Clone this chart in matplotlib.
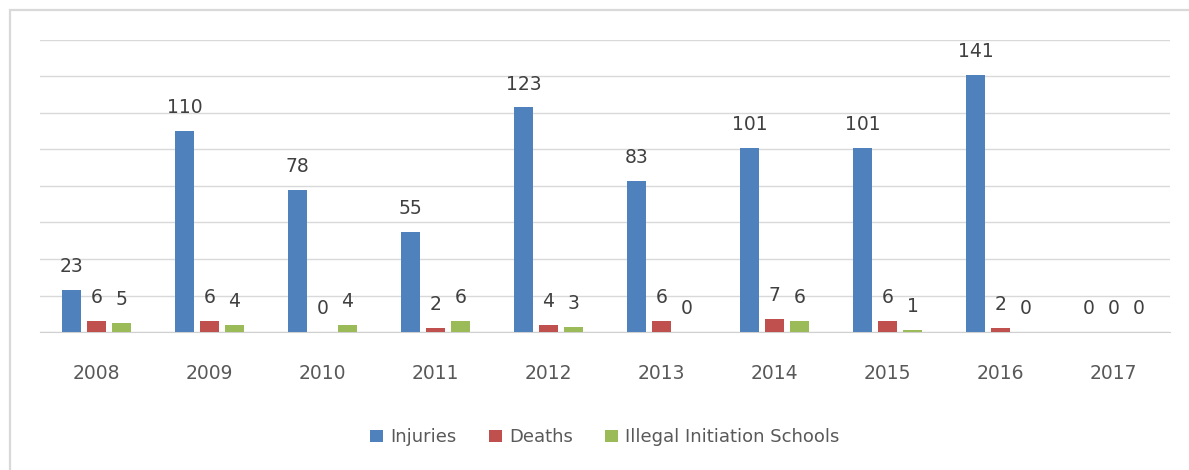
import matplotlib.pyplot as plt
import matplotlib.patches as patches
import numpy as np

# data
years = ["2008", "2009", "2010", "2011", "2012", "2013", "2014", "2015", "2016", "2017"]
injuries = [23, 110, 78, 55, 123, 83, 101, 101, 141, 0]
deaths = [6, 6, 0, 2, 4, 6, 7, 6, 2, 0]
schools = [5, 4, 4, 6, 3, 0, 6, 1, 0, 0]

series = [
    ("Injuries", injuries, "#4F81BD"),
    ("Deaths", deaths, "#C0504D"),
    ("Illegal Initiation Schools", schools, "#9BBB59"),
]

fig = plt.figure(figsize=(11.89, 4.70), dpi=100)
ax = fig.add_axes([0.0336, 0.2936, 0.9504, 0.6214])

# light outer frame of the chart area
fig.patches.append(patches.Rectangle((10 / 1189, -0.1), 1.2, 1.1 - 10 / 470,
                                     transform=fig.transFigure, fill=False,
                                     edgecolor="#d9d9d9", linewidth=1.6))

x = np.arange(len(years))
w = 0.173
step = 0.221

for i, (name, vals, col) in enumerate(series):
    pos = x + (i - 1) * step
    ax.bar(pos, vals, width=w, color=col, label=name, zorder=3)
    for px, v in zip(pos, vals):
        ax.annotate(str(v), (px, v), xytext=(0, 10), textcoords="offset points",
                    ha="center", va="bottom", fontsize=13.5, color="#404040")

ax.set_xlim(-0.5, len(years) - 0.5)
ax.set_ylim(0, 160)
ax.set_yticks(range(0, 161, 20))
ax.set_yticklabels([])
ax.grid(axis="y", color="#d9d9d9", linewidth=1, zorder=0)
ax.tick_params(length=0)
ax.tick_params(axis="x", labelsize=13.5, labelcolor="#595959", pad=23)
ax.set_xticks(x)
ax.set_xticklabels(years)
for s in ["top", "right", "left"]:
    ax.spines[s].set_visible(False)
ax.spines["bottom"].set_color("#d0d0d0")

ax.legend(loc="center", bbox_to_anchor=(0.5, -0.36), ncol=3, frameon=False,
          fontsize=13, handlelength=0.7, handleheight=0.7, handletextpad=0.4,
          columnspacing=1.8, labelcolor="#595959")

fig.savefig("out.png", dpi=100)
